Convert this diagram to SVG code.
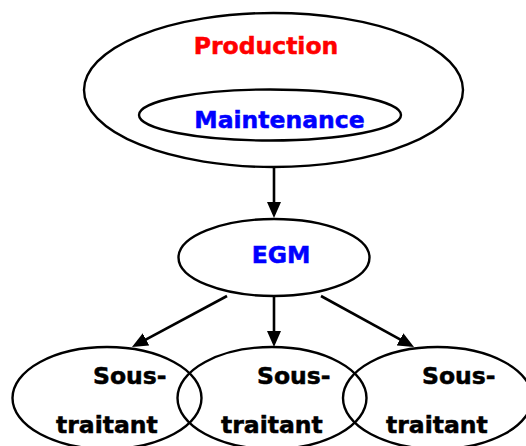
<svg xmlns="http://www.w3.org/2000/svg" width="526" height="446" viewBox="0 0 526 446">
  <style>
    .shape { fill: none; stroke: #000; stroke-width: 2.4; }
    .edge { fill: none; stroke: #000; stroke-width: 2.6; }
    .label { font-family: "DejaVu Sans", Verdana, sans-serif; font-weight: bold; font-size: 23.5px; stroke-width: 0.5; }
    .red { fill: #ff0000; stroke: #ff0000; }
    .blue { fill: #0000ff; stroke: #0000ff; }
    .black { fill: #000; stroke: #000; }
  </style>
  <defs>
    <marker id="arrow" markerUnits="userSpaceOnUse" markerWidth="16" markerHeight="15" refX="12" refY="7.5" orient="auto">
      <path d="M0,0.5 L16,7.5 L0,14.5 z" fill="#000"/>
    </marker>
  </defs>
  <rect width="526" height="446" fill="#fff"/>

  <g id="production">
    <ellipse class="shape" cx="273.5" cy="90" rx="189.5" ry="77"/>
    <text class="label red" x="266" y="53.5" text-anchor="middle">Production</text>
  </g>

  <g id="maintenance">
    <ellipse class="shape" cx="270" cy="115" rx="131" ry="25.5"/>
    <text class="label blue" x="279.5" y="128" text-anchor="middle">Maintenance</text>
  </g>

  <g id="egm">
    <ellipse class="shape" cx="274" cy="257.5" rx="95.5" ry="38.5"/>
    <text class="label blue" x="281" y="263" text-anchor="middle">EGM</text>
  </g>

  <g id="sous-traitant-1">
    <ellipse class="shape" cx="107" cy="398" rx="94.5" ry="51"/>
    <text class="label black" x="93" y="384">Sous-</text>
    <text class="label black" x="56" y="433">traitant</text>
  </g>

  <g id="sous-traitant-2">
    <ellipse class="shape" cx="272" cy="398" rx="94.5" ry="51"/>
    <text class="label black" x="257" y="384">Sous-</text>
    <text class="label black" x="221" y="433">traitant</text>
  </g>

  <g id="sous-traitant-3">
    <ellipse class="shape" cx="437.5" cy="398" rx="94.5" ry="51"/>
    <text class="label black" x="422" y="384">Sous-</text>
    <text class="label black" x="386" y="433">traitant</text>
  </g>

  <g id="connectors">
    <line class="edge" x1="274" y1="167" x2="274" y2="214" marker-end="url(#arrow)"/>
    <line class="edge" x1="274" y1="297" x2="274" y2="343" marker-end="url(#arrow)"/>
    <line class="edge" x1="227" y1="296" x2="135.5" y2="345.1" marker-end="url(#arrow)"/>
    <line class="edge" x1="321" y1="296" x2="410.5" y2="345.1" marker-end="url(#arrow)"/>
  </g>
</svg>
